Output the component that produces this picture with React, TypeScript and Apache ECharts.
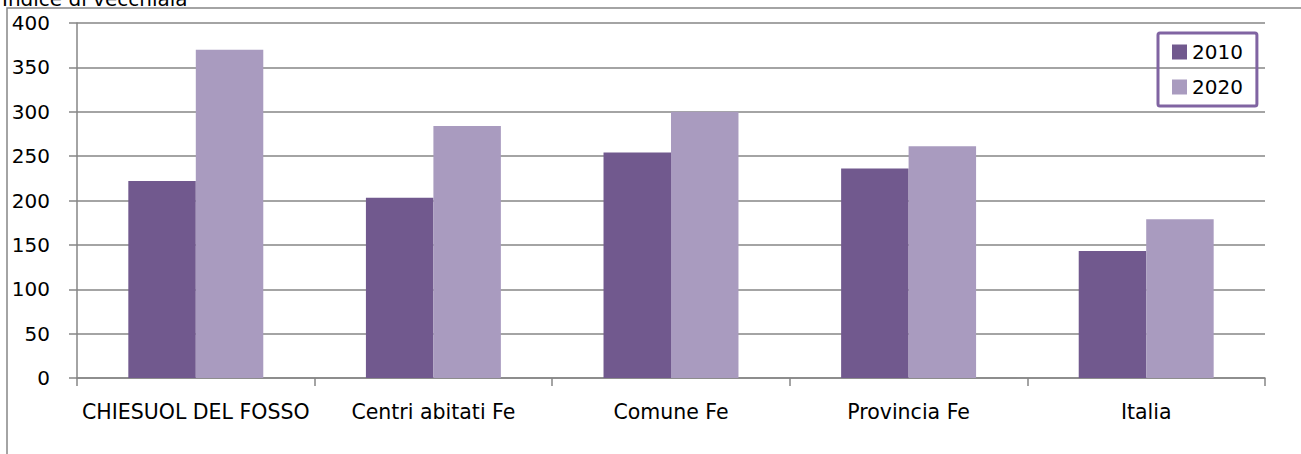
import React, { useEffect, useRef } from "react";
import * as echarts from "echarts";

const categories = ["CHIESUOL DEL FOSSO", "Centri abitati Fe", "Comune Fe", "Provincia Fe", "Italia"];
const values2010 = [222, 203, 254, 236, 143];
const values2020 = [370, 284, 300, 261, 179];
const seriesNames = ["2010", "2020"];
const titleText = "Indice di vecchiaia";

const FONT = "DejaVu Sans";
const GRID = "#868686";

export default function App() {
  const ref = useRef<HTMLDivElement>(null);
  useEffect(() => {
    document.body.style.margin = "0";
    const chart = echarts.init(ref.current!, null, { renderer: "svg" });
    chart.setOption({
      animation: false,
      backgroundColor: "#ffffff",
      textStyle: { fontFamily: FONT },
      grid: { left: 77, right: 36, top: 23, bottom: 76 },
      legend: {
        orient: "vertical",
        left: 1158,
        top: 33,
        data: seriesNames,
        icon: "rect",
        itemWidth: 15,
        itemHeight: 15,
        itemGap: 15,
        padding: [9, 14, 9, 14],
        borderColor: "#8064A2",
        borderWidth: 3,
        borderRadius: 2,
        textStyle: { fontFamily: FONT, fontSize: 20, color: "#000" },
      },
      xAxis: {
        type: "category",
        data: categories,
        axisLine: { lineStyle: { color: GRID, width: 1.5 } },
        axisTick: { show: true, length: 8, lineStyle: { color: GRID, width: 1.5 } },
        axisLabel: { fontFamily: FONT, fontSize: 20.5, color: "#000", margin: 23, interval: 0 },
      },
      yAxis: {
        type: "value",
        min: 0,
        max: 400,
        interval: 50,
        axisLine: { show: true, lineStyle: { color: GRID, width: 1.5 } },
        axisTick: { show: true, length: 8, lineStyle: { color: GRID, width: 1.5 } },
        splitLine: { lineStyle: { color: GRID, width: 1.6 } },
        axisLabel: { fontFamily: FONT, fontSize: 20, color: "#000", margin: 27 },
      },
      series: [
        {
          name: seriesNames[0],
          type: "bar",
          data: values2010,
          barWidth: "28.4%",
          barGap: "0%",
          itemStyle: { color: "#71598E" },
        },
        {
          name: seriesNames[1],
          type: "bar",
          data: values2020,
          barWidth: "28.4%",
          barGap: "0%",
          itemStyle: { color: "#A99BBF" },
        },
      ],
      graphic: [
        {
          type: "rect",
          shape: { x: 7, y: 8, width: 1400, height: 600 },
          style: { fill: "none", stroke: GRID, lineWidth: 1.5 },
          silent: true,
          z: -1,
        },
        {
          type: "text",
          x: 2,
          y: 9,
          style: {
            text: titleText,
            fontFamily: FONT,
            fontSize: 20,
            fill: "#000",
            verticalAlign: "bottom",
          },
        },
      ],
    });
    return () => chart.dispose();
  }, []);
  return <div ref={ref} style={{ width: 1301, height: 454 }} />;
}
